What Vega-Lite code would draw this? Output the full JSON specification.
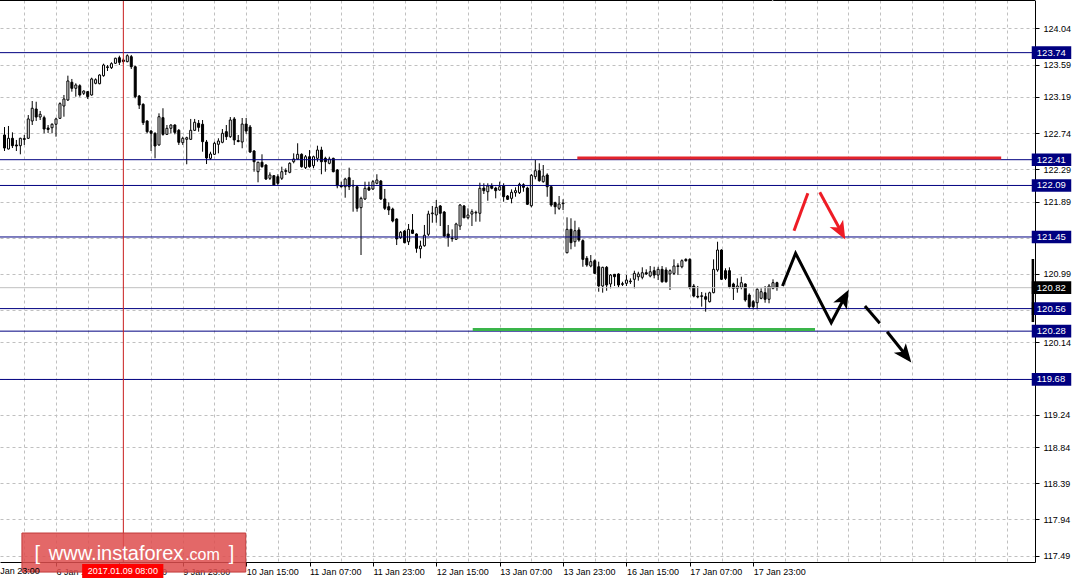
{
  "$schema": "https://vega.github.io/schema/vega-lite/v6.json",
  "width": 1035,
  "height": 562,
  "autosize": {"type": "none"},
  "padding": {"left": 0, "top": 0, "right": 45, "bottom": 22},
  "background": "white",
  "config": {
    "view": {"stroke": null},
    "axis": {"labelFont": "Liberation Sans", "labelFontSize": 9, "labelColor": "#000000", "domainColor": "#000000", "tickColor": "#000000", "labelOverlap": false, "labelFlush": false, "labelBound": false, "labelSeparation": 0, "gridColor": "#c0c0c0", "gridDash": [3, 3], "tickSize": 4},
    "text": {"font": "Liberation Sans"}
  },
  "datasets": {
    "one": [{}],
    "candles": [
      {"k":-1,"o":122.717,"h":122.816,"l":122.518,"c":122.555},
      {"k":0,"o":122.543,"h":122.829,"l":122.537,"c":122.676},
      {"k":1,"o":122.676,"h":122.750,"l":122.555,"c":122.584},
      {"k":2,"o":122.593,"h":122.655,"l":122.518,"c":122.580},
      {"k":3,"o":122.584,"h":122.683,"l":122.477,"c":122.676},
      {"k":4,"o":122.661,"h":122.717,"l":122.593,"c":122.673},
      {"k":5,"o":122.676,"h":122.965,"l":122.667,"c":122.916},
      {"k":6,"o":122.891,"h":123.139,"l":122.841,"c":123.049},
      {"k":7,"o":123.040,"h":123.130,"l":122.891,"c":122.940},
      {"k":8,"o":122.940,"h":123.015,"l":122.903,"c":122.974},
      {"k":9,"o":122.932,"h":122.957,"l":122.738,"c":122.791},
      {"k":10,"o":122.804,"h":122.841,"l":122.742,"c":122.785},
      {"k":11,"o":122.807,"h":122.862,"l":122.738,"c":122.850},
      {"k":12,"o":122.850,"h":122.932,"l":122.696,"c":122.916},
      {"k":13,"o":122.924,"h":123.123,"l":122.916,"c":123.106},
      {"k":14,"o":123.077,"h":123.214,"l":122.944,"c":123.164},
      {"k":15,"o":123.152,"h":123.454,"l":123.139,"c":123.388},
      {"k":16,"o":123.372,"h":123.413,"l":123.255,"c":123.297},
      {"k":17,"o":123.297,"h":123.359,"l":123.193,"c":123.338},
      {"k":18,"o":123.329,"h":123.347,"l":123.193,"c":123.214},
      {"k":19,"o":123.235,"h":123.272,"l":123.214,"c":123.263},
      {"k":20,"o":123.255,"h":123.263,"l":123.164,"c":123.193},
      {"k":21,"o":123.214,"h":123.429,"l":123.205,"c":123.413},
      {"k":22,"o":123.359,"h":123.421,"l":123.347,"c":123.404},
      {"k":23,"o":123.354,"h":123.471,"l":123.347,"c":123.462},
      {"k":24,"o":123.454,"h":123.603,"l":123.441,"c":123.586},
      {"k":25,"o":123.555,"h":123.586,"l":123.512,"c":123.564},
      {"k":26,"o":123.553,"h":123.620,"l":123.537,"c":123.603},
      {"k":27,"o":123.608,"h":123.677,"l":123.599,"c":123.670},
      {"k":28,"o":123.677,"h":123.702,"l":123.586,"c":123.620},
      {"k":29,"o":123.649,"h":123.670,"l":123.603,"c":123.630},
      {"k":30,"o":123.628,"h":123.719,"l":123.620,"c":123.702},
      {"k":31,"o":123.690,"h":123.711,"l":123.537,"c":123.565},
      {"k":32,"o":123.565,"h":123.578,"l":123.173,"c":123.193},
      {"k":33,"o":123.201,"h":123.214,"l":123.040,"c":123.089},
      {"k":34,"o":123.098,"h":123.111,"l":122.841,"c":122.870},
      {"k":35,"o":122.891,"h":122.899,"l":122.738,"c":122.758},
      {"k":36,"o":122.766,"h":122.779,"l":122.518,"c":122.738},
      {"k":37,"o":122.738,"h":122.750,"l":122.427,"c":122.580},
      {"k":38,"o":122.593,"h":122.986,"l":122.584,"c":122.944},
      {"k":39,"o":122.932,"h":123.049,"l":122.708,"c":122.725},
      {"k":40,"o":122.725,"h":122.841,"l":122.717,"c":122.800},
      {"k":41,"o":122.800,"h":122.850,"l":122.738,"c":122.841},
      {"k":42,"o":122.841,"h":122.850,"l":122.725,"c":122.750},
      {"k":43,"o":122.775,"h":122.791,"l":122.593,"c":122.626},
      {"k":44,"o":122.621,"h":122.696,"l":122.593,"c":122.676},
      {"k":45,"o":122.663,"h":122.696,"l":122.353,"c":122.683},
      {"k":46,"o":122.663,"h":122.916,"l":122.655,"c":122.775},
      {"k":47,"o":122.775,"h":122.916,"l":122.766,"c":122.875},
      {"k":48,"o":122.862,"h":122.903,"l":122.758,"c":122.812},
      {"k":49,"o":122.850,"h":122.903,"l":122.509,"c":122.634},
      {"k":50,"o":122.630,"h":122.655,"l":122.356,"c":122.431},
      {"k":51,"o":122.427,"h":122.509,"l":122.406,"c":122.481},
      {"k":52,"o":122.477,"h":122.634,"l":122.468,"c":122.614},
      {"k":53,"o":122.601,"h":122.676,"l":122.489,"c":122.642},
      {"k":54,"o":122.626,"h":122.791,"l":122.614,"c":122.738},
      {"k":55,"o":122.758,"h":122.841,"l":122.655,"c":122.696},
      {"k":56,"o":122.696,"h":122.940,"l":122.680,"c":122.903},
      {"k":57,"o":122.916,"h":122.940,"l":122.593,"c":122.655},
      {"k":58,"o":122.648,"h":122.717,"l":122.626,"c":122.636},
      {"k":59,"o":122.630,"h":122.928,"l":122.552,"c":122.853},
      {"k":60,"o":122.853,"h":122.928,"l":122.729,"c":122.766},
      {"k":61,"o":122.816,"h":122.841,"l":122.493,"c":122.506},
      {"k":62,"o":122.518,"h":122.530,"l":122.261,"c":122.385},
      {"k":63,"o":122.261,"h":122.385,"l":122.129,"c":122.378},
      {"k":64,"o":122.378,"h":122.477,"l":122.311,"c":122.323},
      {"k":65,"o":122.344,"h":122.353,"l":122.158,"c":122.170},
      {"k":66,"o":122.179,"h":122.253,"l":122.158,"c":122.220},
      {"k":67,"o":122.211,"h":122.220,"l":122.087,"c":122.096},
      {"k":68,"o":122.199,"h":122.229,"l":122.096,"c":122.117},
      {"k":69,"o":122.179,"h":122.323,"l":122.158,"c":122.261},
      {"k":70,"o":122.263,"h":122.303,"l":122.220,"c":122.276},
      {"k":71,"o":122.253,"h":122.378,"l":122.241,"c":122.365},
      {"k":72,"o":122.385,"h":122.489,"l":122.365,"c":122.419},
      {"k":73,"o":122.419,"h":122.614,"l":122.406,"c":122.477},
      {"k":74,"o":122.477,"h":122.489,"l":122.311,"c":122.323},
      {"k":75,"o":122.311,"h":122.468,"l":122.294,"c":122.447},
      {"k":76,"o":122.447,"h":122.530,"l":122.311,"c":122.323},
      {"k":77,"o":122.335,"h":122.460,"l":122.303,"c":122.447},
      {"k":78,"o":122.427,"h":122.584,"l":122.385,"c":122.530},
      {"k":79,"o":122.530,"h":122.571,"l":122.229,"c":122.385},
      {"k":80,"o":122.427,"h":122.447,"l":122.261,"c":122.385},
      {"k":81,"o":122.365,"h":122.447,"l":122.353,"c":122.419},
      {"k":82,"o":122.427,"h":122.435,"l":122.253,"c":122.261},
      {"k":83,"o":122.282,"h":122.294,"l":122.055,"c":122.087},
      {"k":84,"o":122.087,"h":122.137,"l":122.064,"c":122.074},
      {"k":85,"o":122.074,"h":122.186,"l":121.938,"c":122.170},
      {"k":86,"o":122.186,"h":122.311,"l":122.033,"c":122.074},
      {"k":87,"o":122.092,"h":122.158,"l":121.764,"c":122.083},
      {"k":88,"o":122.074,"h":122.087,"l":121.764,"c":121.806},
      {"k":89,"o":121.814,"h":121.950,"l":121.226,"c":121.930},
      {"k":90,"o":121.922,"h":122.137,"l":121.909,"c":122.055},
      {"k":91,"o":122.062,"h":122.137,"l":122.021,"c":122.033},
      {"k":92,"o":122.046,"h":122.158,"l":122.033,"c":122.137},
      {"k":93,"o":122.117,"h":122.229,"l":122.104,"c":122.158},
      {"k":94,"o":122.145,"h":122.158,"l":121.909,"c":121.922},
      {"k":95,"o":121.922,"h":122.046,"l":121.785,"c":121.806},
      {"k":96,"o":121.826,"h":121.881,"l":121.723,"c":121.785},
      {"k":97,"o":121.797,"h":121.814,"l":121.632,"c":121.648},
      {"k":98,"o":121.673,"h":121.682,"l":121.350,"c":121.425},
      {"k":99,"o":121.441,"h":121.524,"l":121.425,"c":121.508},
      {"k":100,"o":121.524,"h":121.537,"l":121.371,"c":121.379},
      {"k":101,"o":121.391,"h":121.611,"l":121.350,"c":121.545},
      {"k":102,"o":121.537,"h":121.735,"l":121.487,"c":121.495},
      {"k":103,"o":121.487,"h":121.495,"l":121.254,"c":121.309},
      {"k":104,"o":121.304,"h":121.404,"l":121.185,"c":121.338},
      {"k":105,"o":121.341,"h":121.599,"l":121.329,"c":121.471},
      {"k":106,"o":121.483,"h":121.776,"l":121.462,"c":121.735},
      {"k":107,"o":121.739,"h":121.835,"l":121.627,"c":121.748},
      {"k":108,"o":121.723,"h":121.909,"l":121.627,"c":121.818},
      {"k":109,"o":121.835,"h":121.847,"l":121.586,"c":121.744},
      {"k":110,"o":121.760,"h":121.773,"l":121.446,"c":121.462},
      {"k":111,"o":121.487,"h":121.599,"l":121.329,"c":121.446},
      {"k":112,"o":121.437,"h":121.545,"l":121.391,"c":121.428},
      {"k":113,"o":121.421,"h":121.627,"l":121.412,"c":121.611},
      {"k":114,"o":121.586,"h":121.859,"l":121.537,"c":121.847},
      {"k":115,"o":121.835,"h":121.847,"l":121.682,"c":121.689},
      {"k":116,"o":121.689,"h":121.806,"l":121.669,"c":121.723},
      {"k":117,"o":121.735,"h":121.794,"l":121.586,"c":121.764},
      {"k":118,"o":121.748,"h":121.776,"l":121.640,"c":121.756},
      {"k":119,"o":121.744,"h":122.124,"l":121.640,"c":122.055},
      {"k":120,"o":122.058,"h":122.117,"l":121.984,"c":122.025},
      {"k":121,"o":122.012,"h":122.117,"l":121.900,"c":122.083},
      {"k":122,"o":122.083,"h":122.117,"l":122.042,"c":122.055},
      {"k":123,"o":122.058,"h":122.074,"l":121.930,"c":122.025},
      {"k":124,"o":122.033,"h":122.137,"l":122.025,"c":122.074},
      {"k":125,"o":122.083,"h":122.117,"l":121.888,"c":121.950},
      {"k":126,"o":121.959,"h":121.971,"l":121.909,"c":121.918},
      {"k":127,"o":121.930,"h":122.042,"l":121.868,"c":122.005},
      {"k":128,"o":122.000,"h":122.067,"l":121.950,"c":122.025},
      {"k":129,"o":122.000,"h":122.124,"l":121.984,"c":122.104},
      {"k":130,"o":122.099,"h":122.117,"l":122.012,"c":122.067},
      {"k":131,"o":122.058,"h":122.074,"l":121.847,"c":121.856},
      {"k":132,"o":121.838,"h":122.232,"l":121.818,"c":122.216},
      {"k":133,"o":122.199,"h":122.406,"l":122.166,"c":122.273},
      {"k":134,"o":122.273,"h":122.365,"l":122.137,"c":122.149},
      {"k":135,"o":122.137,"h":122.344,"l":122.124,"c":122.207},
      {"k":136,"o":122.220,"h":122.241,"l":121.950,"c":122.074},
      {"k":137,"o":122.074,"h":122.083,"l":121.826,"c":121.847},
      {"k":138,"o":121.876,"h":121.888,"l":121.732,"c":121.826},
      {"k":139,"o":121.806,"h":121.959,"l":121.785,"c":121.859},
      {"k":140,"o":121.863,"h":121.918,"l":121.785,"c":121.872},
      {"k":141,"o":121.254,"h":121.694,"l":121.247,"c":121.545},
      {"k":142,"o":121.545,"h":121.682,"l":121.297,"c":121.379},
      {"k":143,"o":121.391,"h":121.652,"l":121.329,"c":121.528},
      {"k":144,"o":121.537,"h":121.570,"l":121.391,"c":121.412},
      {"k":145,"o":121.404,"h":121.421,"l":121.080,"c":121.172},
      {"k":146,"o":121.185,"h":121.213,"l":121.080,"c":121.102},
      {"k":147,"o":121.089,"h":121.226,"l":121.073,"c":121.143},
      {"k":148,"o":121.155,"h":121.172,"l":120.990,"c":120.998},
      {"k":149,"o":121.080,"h":121.143,"l":120.770,"c":120.841},
      {"k":150,"o":120.841,"h":121.080,"l":120.758,"c":121.073},
      {"k":151,"o":121.073,"h":121.089,"l":120.782,"c":120.853},
      {"k":152,"o":120.866,"h":120.990,"l":120.812,"c":120.977},
      {"k":153,"o":120.986,"h":120.990,"l":120.841,"c":120.956},
      {"k":154,"o":120.990,"h":120.998,"l":120.825,"c":120.853},
      {"k":155,"o":120.869,"h":120.894,"l":120.841,"c":120.862},
      {"k":156,"o":120.874,"h":120.977,"l":120.841,"c":120.915},
      {"k":157,"o":120.894,"h":120.936,"l":120.866,"c":120.903},
      {"k":158,"o":120.924,"h":121.031,"l":120.812,"c":120.998},
      {"k":159,"o":120.956,"h":121.018,"l":120.907,"c":120.990},
      {"k":160,"o":120.949,"h":121.073,"l":120.924,"c":121.006},
      {"k":161,"o":121.006,"h":121.048,"l":120.977,"c":120.990},
      {"k":162,"o":120.965,"h":121.089,"l":120.949,"c":121.018},
      {"k":163,"o":121.031,"h":121.080,"l":120.936,"c":120.977},
      {"k":164,"o":120.977,"h":121.080,"l":120.915,"c":121.048},
      {"k":165,"o":121.048,"h":121.089,"l":120.882,"c":120.894},
      {"k":166,"o":121.040,"h":121.073,"l":120.882,"c":120.894},
      {"k":167,"o":120.990,"h":121.048,"l":120.791,"c":121.031},
      {"k":168,"o":120.998,"h":121.172,"l":120.977,"c":121.089},
      {"k":169,"o":121.083,"h":121.123,"l":120.977,"c":121.092},
      {"k":170,"o":121.080,"h":121.172,"l":121.061,"c":121.155},
      {"k":171,"o":121.172,"h":121.185,"l":121.143,"c":121.155},
      {"k":172,"o":121.172,"h":121.185,"l":120.800,"c":120.825},
      {"k":173,"o":120.841,"h":120.866,"l":120.700,"c":120.716},
      {"k":174,"o":120.713,"h":120.841,"l":120.688,"c":120.704},
      {"k":175,"o":120.710,"h":120.766,"l":120.584,"c":120.720},
      {"k":176,"o":120.708,"h":120.757,"l":120.522,"c":120.676},
      {"k":177,"o":120.646,"h":120.770,"l":120.636,"c":120.757},
      {"k":178,"o":120.758,"h":121.172,"l":120.750,"c":121.048},
      {"k":179,"o":121.040,"h":121.391,"l":121.018,"c":121.288},
      {"k":180,"o":121.288,"h":121.297,"l":120.915,"c":120.924},
      {"k":181,"o":121.031,"h":121.061,"l":120.915,"c":120.936},
      {"k":182,"o":121.031,"h":121.073,"l":120.812,"c":120.832},
      {"k":183,"o":120.866,"h":120.882,"l":120.667,"c":120.812},
      {"k":184,"o":120.812,"h":120.936,"l":120.758,"c":120.841},
      {"k":185,"o":120.825,"h":120.956,"l":120.800,"c":120.882},
      {"k":186,"o":120.866,"h":120.874,"l":120.646,"c":120.667},
      {"k":187,"o":120.729,"h":120.750,"l":120.564,"c":120.584},
      {"k":188,"o":120.646,"h":120.667,"l":120.551,"c":120.584},
      {"k":189,"o":120.633,"h":120.812,"l":120.551,"c":120.800},
      {"k":190,"o":120.688,"h":120.812,"l":120.676,"c":120.770},
      {"k":191,"o":120.758,"h":120.841,"l":120.633,"c":120.676},
      {"k":192,"o":120.676,"h":120.866,"l":120.626,"c":120.841},
      {"k":193,"o":120.812,"h":120.924,"l":120.800,"c":120.882},
      {"k":194,"o":120.882,"h":120.894,"l":120.782,"c":120.820}
    ],
    "levels": [
      {"price":123.74,"kind":"level"},
      {"price":122.41,"kind":"level"},
      {"price":122.09,"kind":"level"},
      {"price":121.45,"kind":"level"},
      {"price":120.56,"kind":"level"},
      {"price":120.28,"kind":"level"},
      {"price":119.68,"kind":"level"},
      {"price":120.82,"kind":"bid"}
    ],
    "zones": [
      {"kind":"resistance","start":143.6,"end":250.6,"price":122.43},
      {"kind":"support","start":117.2,"end":203.6,"price":120.30}
    ],
    "paths": [
      {"seg":"r1","kind":"alt","i":0,"k":198.3,"p":121.528},
      {"seg":"r1","kind":"alt","i":1,"k":201.8,"p":121.993},
      {"seg":"r2","kind":"alt","i":0,"k":204.8,"p":122.005},
      {"seg":"r2","kind":"alt","i":1,"k":210.4,"p":121.499},
      {"seg":"b1","kind":"main","i":0,"k":195.4,"p":120.841},
      {"seg":"b1","kind":"main","i":1,"k":198.7,"p":121.247},
      {"seg":"b1","kind":"main","i":2,"k":207.7,"p":120.385},
      {"seg":"b1","kind":"main","i":3,"k":211.4,"p":120.729},
      {"seg":"b2","kind":"main","i":0,"k":216.2,"p":120.592},
      {"seg":"b2","kind":"main","i":1,"k":219.95,"p":120.377},
      {"seg":"b3","kind":"main","i":0,"k":221.8,"p":120.273},
      {"seg":"b3","kind":"main","i":1,"k":226.6,"p":119.977}
    ],
    "heads": [
      {"kind":"alt","k":210.0,"p":121.530,"angle":151},
      {"kind":"main","k":210.9,"p":120.682,"angle":28},
      {"kind":"main","k":226.3,"p":119.990,"angle":141.5}
    ]
  },
  "layer": [
    {
      "data": {"name": "candles"},
      "mark": {"type": "rule", "color": "#000000", "strokeWidth": 1},
      "encoding": {
        "x": {
          "field": "k", "type": "quantitative", "title": null,
          "scale": {"domain": [-0.875, 257.875], "nice": false, "zero": false},
          "axis": {
            "orient": "bottom",
            "values": [4,12,20,28,36,44,52,60,68,76,84,92,100,108,116,124,132,140,148,156,164,172,180,188,196,204,212,220,228,236,244,252],
            "tickCount": 60,
            "grid": true, "gridColor": "#c0c0c0", "gridDash": [3, 3], "gridWidth": 1,
            "gridOpacity": {"condition": {"test": "datum.value == 28", "value": 0}, "value": 1},
            "ticks": true, "tickSize": 4, "tickColor": "#000000",
            "tickOpacity": {"condition": {"test": "(datum.value - 12) % 16 == 0 && datum.value <= 188", "value": 1}, "value": 0},
            "labelExpr": "(datum.value - 12) % 16 == 0 && datum.value <= 188 ? ['6 Jan 15:00','9 Jan 07:00','9 Jan 23:00','10 Jan 15:00','11 Jan 07:00','11 Jan 23:00','12 Jan 15:00','13 Jan 07:00','13 Jan 23:00','16 Jan 15:00','17 Jan 07:00','17 Jan 23:00'][(datum.value - 12) / 16] : ''",
            "labelAlign": "left", "labelBaseline": "top", "labelPadding": 1,
            "labelOverlap": false, "labelFlush": false, "labelBound": false,
            "domain": true, "domainColor": "#000000", "title": null
          }
        },
        "y": {
          "field": "l", "type": "quantitative", "title": null,
          "scale": {"domain": [117.412, 124.394], "nice": false, "zero": false},
          "axis": {
            "orient": "right",
            "values": [124.04,123.59,123.19,122.74,122.29,121.89,121.44,120.99,120.54,120.14,119.69,119.24,118.84,118.39,117.94,117.49],
            "tickCount": 40,
            "labelExpr": "datum.value == 121.44 || datum.value == 120.54 || datum.value == 119.69 ? '' : format(datum.value, '.2f')",
            "grid": true, "gridColor": "#c0c0c0", "gridDash": [3, 3], "gridWidth": 1,
            "ticks": true, "tickSize": 4, "labelPadding": 4,
            "labelOverlap": false, "labelFlush": false, "labelBound": false,
            "domain": true, "title": null
          }
        },
        "y2": {"field": "h"}
      }
    },
    {
      "data": {"name": "candles"},
      "mark": {"type": "bar", "size": 2, "stroke": "#000000", "strokeWidth": 1},
      "encoding": {
        "x": {"field": "k", "type": "quantitative", "title": null},
        "y": {"field": "o", "type": "quantitative", "title": null},
        "y2": {"field": "c"},
        "fill": {"condition": {"test": "datum.c >= datum.o", "value": "#ffffff"}, "value": "#000000"}
      }
    },
    {
      "data": {"name": "levels"},
      "mark": {"type": "rule", "strokeWidth": 1},
      "encoding": {
        "y": {"field": "price", "type": "quantitative", "title": null},
        "color": {"condition": {"test": "datum.kind == 'bid'", "value": "#c0c0c0"}, "value": "#000080"}
      }
    },
    {
      "data": {"name": "zones"},
      "mark": {"type": "rule", "strokeWidth": 3},
      "encoding": {
        "x": {"field": "start", "type": "quantitative", "title": null},
        "x2": {"field": "end"},
        "y": {"field": "price", "type": "quantitative", "title": null},
        "color": {"condition": {"test": "datum.kind == 'resistance'", "value": "#e3242b"}, "value": "#3ab54a"}
      }
    },
    {
      "data": {"name": "paths"},
      "mark": {"type": "line", "strokeWidth": 3, "strokeCap": "butt", "strokeJoin": "miter"},
      "encoding": {
        "x": {"field": "k", "type": "quantitative", "title": null},
        "y": {"field": "p", "type": "quantitative", "title": null},
        "detail": {"field": "seg"},
        "order": {"field": "i"},
        "color": {"condition": {"test": "datum.kind == 'alt'", "value": "#ee1c25"}, "value": "#000000"}
      }
    },
    {
      "data": {"name": "heads"},
      "mark": {"type": "point", "shape": "M0,-1L0.75,0.8L0,0.35L-0.75,0.8Z", "size": 420, "filled": true, "opacity": 1, "strokeWidth": 0},
      "encoding": {
        "x": {"field": "k", "type": "quantitative", "title": null},
        "y": {"field": "p", "type": "quantitative", "title": null},
        "angle": {"field": "angle", "type": "quantitative", "scale": null},
        "color": {"condition": {"test": "datum.kind == 'alt'", "value": "#ee1c25"}, "value": "#000000"}
      }
    },
    {
      "data": {"name": "one"},
      "mark": {"type": "rule", "color": "#c81e1e", "strokeWidth": 1},
      "encoding": {
        "x": {"datum": 29, "type": "quantitative", "title": null}
      }
    },
    {
      "data": {"name": "one"},
      "mark": {"type": "rule", "color": "#000000", "strokeWidth": 2},
      "encoding": {
        "y": {"datum": 124.394, "type": "quantitative", "title": null}
      }
    },
    {
      "data": {"name": "one"},
      "mark": {"type": "point", "shape": "triangle-down", "size": 110, "filled": true, "color": "#a8a8a8", "opacity": 1},
      "encoding": {
        "x": {"datum": 192.9, "type": "quantitative", "title": null},
        "y": {"datum": 124.43, "type": "quantitative", "title": null}
      }
    },
    {
      "data": {"name": "levels"},
      "mark": {"type": "point", "shape": "M-1,-0.32L1,-0.32L1,0.32L-1,0.32Z", "size": 1560, "filled": true, "opacity": 1, "strokeWidth": 0},
      "encoding": {
        "x": {"datum": 263.3, "type": "quantitative", "title": null},
        "y": {"field": "price", "type": "quantitative", "title": null},
        "color": {"condition": {"test": "datum.kind == 'bid'", "value": "#000000"}, "value": "#000080"}
      }
    },
    {
      "data": {"name": "levels"},
      "mark": {"type": "text", "align": "left", "baseline": "middle", "fontSize": 9.5, "color": "#ffffff"},
      "encoding": {
        "x": {"datum": 259.6, "type": "quantitative", "title": null},
        "y": {"field": "price", "type": "quantitative", "title": null},
        "text": {"field": "price", "type": "quantitative", "format": ".2f"}
      }
    },
    {
      "data": {"name": "one"},
      "mark": {"type": "rule", "color": "#000000", "strokeWidth": 2.5},
      "encoding": {
        "x": {"datum": 258.6, "type": "quantitative", "title": null},
        "y": {"datum": 121.176, "type": "quantitative", "title": null},
        "y2": {"datum": 120.393}
      }
    },
    {
      "data": {"name": "one"},
      "mark": {"type": "rect", "fill": "#de4d4d", "fillOpacity": 0.85, "stroke": "#c23a3a", "strokeWidth": 1},
      "encoding": {
        "x": {"datum": 3.4, "type": "quantitative", "title": null},
        "x2": {"datum": 59.9},
        "y": {"datum": 117.772, "type": "quantitative", "title": null},
        "y2": {"datum": 117.287}
      }
    },
    {
      "data": {"name": "one"},
      "mark": {"type": "text", "text": "[", "align": "left", "baseline": "alphabetic", "fontSize": 20, "color": "#ffffff", "font": "Liberation Sans"},
      "encoding": {
        "x": {"datum": 6.6, "type": "quantitative", "title": null},
        "y": {"datum": 117.44, "type": "quantitative", "title": null}
      }
    },
    {
      "data": {"name": "one"},
      "mark": {"type": "text", "text": "www.instaforex", "align": "left", "baseline": "alphabetic", "fontSize": 20, "color": "#ffffff", "font": "Liberation Sans"},
      "encoding": {
        "x": {"datum": 10.2, "type": "quantitative", "title": null},
        "y": {"datum": 117.44, "type": "quantitative", "title": null}
      }
    },
    {
      "data": {"name": "one"},
      "mark": {"type": "text", "text": ".com", "align": "left", "baseline": "alphabetic", "fontSize": 16, "color": "#ffffff", "font": "Liberation Sans"},
      "encoding": {
        "x": {"datum": 44.6, "type": "quantitative", "title": null},
        "y": {"datum": 117.44, "type": "quantitative", "title": null}
      }
    },
    {
      "data": {"name": "one"},
      "mark": {"type": "text", "text": "]", "align": "left", "baseline": "alphabetic", "fontSize": 20, "color": "#ffffff", "font": "Liberation Sans"},
      "encoding": {
        "x": {"datum": 55.6, "type": "quantitative", "title": null},
        "y": {"datum": 117.44, "type": "quantitative", "title": null}
      }
    },
    {
      "data": {"name": "one"},
      "mark": {"type": "rect", "fill": "#ff0000"},
      "encoding": {
        "x": {"datum": 18.6, "type": "quantitative", "title": null},
        "x2": {"datum": 39.1},
        "y": {"datum": 117.387, "type": "quantitative", "title": null},
        "y2": {"datum": 117.213}
      }
    },
    {
      "data": {"name": "one"},
      "mark": {"type": "text", "text": "2017.01.09 08:00", "align": "center", "baseline": "middle", "fontSize": 9, "color": "#ffffff"},
      "encoding": {
        "x": {"datum": 28.875, "type": "quantitative", "title": null},
        "y": {"datum": 117.300, "type": "quantitative", "title": null}
      }
    },
    {
      "data": {"name": "one"},
      "mark": {"type": "text", "text": "5 Jan 23:00", "align": "left", "baseline": "top", "fontSize": 9, "color": "#000000"},
      "encoding": {
        "x": {"datum": -4, "type": "quantitative", "title": null},
        "y": {"datum": 117.350, "type": "quantitative", "title": null}
      }
    }
  ]
}
